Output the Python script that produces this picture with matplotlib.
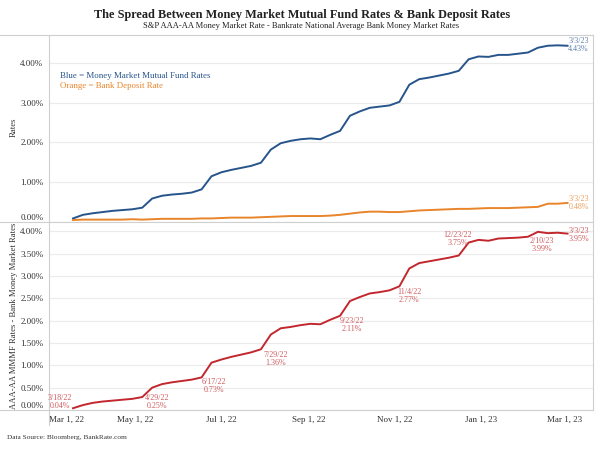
import matplotlib.pyplot as plt
import matplotlib.dates as mdates
import matplotlib.ticker as ticker
from matplotlib.lines import Line2D
import pandas as pd

# weekly readings, Fridays 3/18/22 .. 3/3/23
dates = pd.date_range('2022-03-18', periods=51, freq='7D')

mmf_rate = [0.09, 0.18, 0.22, 0.25, 0.28, 0.30, 0.32, 0.36, 0.59, 0.66,
            0.69, 0.71, 0.74, 0.82, 1.15, 1.25, 1.31, 1.36, 1.41, 1.49,
            1.82, 1.98, 2.04, 2.08, 2.10, 2.08, 2.19, 2.29, 2.67, 2.78,
            2.87, 2.90, 2.93, 3.02, 3.45, 3.59, 3.63, 3.68, 3.73, 3.80,
            4.09, 4.16, 4.15, 4.20, 4.20, 4.23, 4.26, 4.38, 4.43, 4.44,
            4.43]

bank_rate = [0.05, 0.06, 0.06, 0.06, 0.06, 0.06, 0.07, 0.06, 0.07, 0.08,
             0.08, 0.08, 0.08, 0.09, 0.09, 0.10, 0.11, 0.11, 0.11, 0.12,
             0.13, 0.14, 0.15, 0.15, 0.15, 0.15, 0.16, 0.18, 0.21, 0.24,
             0.26, 0.26, 0.25, 0.25, 0.27, 0.29, 0.30, 0.31, 0.32, 0.33,
             0.33, 0.34, 0.35, 0.35, 0.35, 0.36, 0.37, 0.38, 0.46, 0.46,
             0.48]

spread = [0.04, 0.11, 0.16, 0.19, 0.21, 0.23, 0.25, 0.29, 0.50, 0.58,
          0.62, 0.65, 0.68, 0.73, 1.06, 1.13, 1.19, 1.24, 1.29, 1.36,
          1.69, 1.83, 1.86, 1.90, 1.93, 1.92, 2.02, 2.11, 2.44, 2.53,
          2.61, 2.64, 2.68, 2.77, 3.17, 3.29, 3.33, 3.37, 3.41, 3.46,
          3.75, 3.81, 3.79, 3.84, 3.85, 3.86, 3.88, 3.99, 3.96, 3.97,
          3.95]

# labelled points on the spread line
spread_label_idx = [0, 6, 13, 19, 27, 33, 40, 47, 50]
spread_label_txt = ['3/18/22\n0.04%', '4/29/22\n0.25%', '6/17/22\n0.73%',
                    '7/29/22\n1.36%', '9/23/22\n2.11%', '11/4/22\n2.77%',
                    '12/23/22\n3.75%', '2/10/23\n3.99%', '3/3/23\n3.95%']
# label offsets in pixels (x right, y up)
spread_label_off = [(-13, 6), (25, -3), (12, -9), (15, -10), (12, -9),
                    (10, -10), (-11, 4), (4, -13), (11, -1)]

top_ticks = [0, 1, 2, 3, 4]
bottom_ticks = [0, 0.5, 1, 1.5, 2, 2.5, 3, 3.5, 4]
x_ticks = ['2022-03-01', '2022-05-01', '2022-07-01', '2022-09-01',
           '2022-11-01', '2023-01-01', '2023-03-01']

BLUE = '#27548a'
ORANGE = '#e8842a'
RED = '#c2272d'
GRID = '#ebebeb'
EDGE = '#cfcfcf'
TXT = '#333333'

plt.rcParams['font.family'] = ['Liberation Serif', 'DejaVu Serif']

fig = plt.figure(figsize=(6, 4.5), dpi=100)
ax1 = fig.add_axes([49 / 600, 1 - 222 / 450, 544 / 600, 187 / 450])
ax2 = fig.add_axes([49 / 600, 1 - 410 / 450, 544 / 600, 188 / 450])

xmin = pd.Timestamp('2022-03-01')
xmax = pd.Timestamp('2023-03-21')

for ax in (ax1, ax2):
    ax.set_xlim(xmin, xmax)
    for s in ('top', 'bottom', 'right'):
        ax.spines[s].set_visible(False)
    ax.spines['left'].set_color(EDGE)
    ax.spines['left'].set_linewidth(0.8)
    ax.grid(axis='y', color=GRID, linewidth=0.8)
    ax.set_axisbelow(True)
    ax.tick_params(axis='y', length=0, pad=4, labelsize=6.5, labelcolor=TXT)
    ax.yaxis.set_major_formatter(ticker.FuncFormatter(lambda v, p: f'{v:.2f}%'))

# top panel
ax1.plot(dates, mmf_rate, color=BLUE, linewidth=1.4)
ax1.plot(dates, bank_rate, color=ORANGE, linewidth=1.4)
ax1.set_ylim(0, 4.70)
ax1.set_yticks(top_ticks)
ax1.set_xticks([])
ax1.get_yticklabels()[0].set_va('bottom')

ax1.annotate('3/3/23\n' + f'{mmf_rate[-1]:.2f}%', (dates[-1], mmf_rate[-1]),
             xytext=(11, 1), textcoords='offset pixels', ha='center', va='center',
             fontsize=5.8, color='#5d80aa', linespacing=1.0)
ax1.annotate('3/3/23\n' + f'{bank_rate[-1]:.2f}%', (dates[-1], bank_rate[-1]),
             xytext=(11, 0), textcoords='offset pixels', ha='center', va='center',
             fontsize=5.8, color='#eba05c', linespacing=1.0)
ax1.text(60 / 600, 1 - 76 / 450, 'Blue = Money Market Mutual Fund Rates',
         transform=fig.transFigure, fontsize=6.4, color=BLUE, va='center')
ax1.text(60 / 600, 1 - 85.5 / 450, 'Orange = Bank Deposit Rate',
         transform=fig.transFigure, fontsize=6.4, color=ORANGE, va='center')

# bottom panel
ax2.plot(dates, spread, color=RED, linewidth=1.4)
ax2.set_ylim(0, 4.21)
ax2.set_yticks(bottom_ticks)
ax2.get_yticklabels()[0].set_va('bottom')
ax2.set_xticks(pd.to_datetime(x_ticks))
ax2.xaxis.set_major_formatter(mdates.DateFormatter('%b 1, %y'))
ax2.tick_params(axis='x', length=0, pad=4, labelsize=6.5, labelcolor=TXT)
ax2.get_xticklabels()[0].set_ha('left')

for i, txt, off in zip(spread_label_idx, spread_label_txt, spread_label_off):
    ax2.annotate(txt, (dates[i], spread[i]), xytext=off, textcoords='offset pixels',
                 ha='center', va='center', fontsize=5.8, color='#cf5a5e',
                 linespacing=1.0)

# frame lines
for y in (35, 222, 410):
    fig.add_artist(Line2D([0, 593 / 600], [1 - y / 450] * 2, color=EDGE,
                          linewidth=0.8, transform=fig.transFigure))
fig.add_artist(Line2D([593 / 600] * 2, [1 - 35 / 450, 1 - 410 / 450], color=EDGE,
                      linewidth=0.8, transform=fig.transFigure))
fig.add_artist(Line2D([49 / 600] * 2, [1 - 410 / 450, 1 - 425 / 450], color=EDGE,
                      linewidth=0.8, transform=fig.transFigure))

# titles and axis labels
fig.text(0.503, 1 - 15 / 450, 'The Spread Between Money Market Mutual Fund Rates & Bank Deposit Rates',
         ha='center', va='center', fontsize=8.8, fontweight='bold', color='#222222')
fig.text(0.502, 1 - 26.5 / 450, 'S&P AAA-AA Money Market Rate - Bankrate National Average Bank Money Market Rates',
         ha='center', va='center', fontsize=6.1, color='#222222')
fig.text(14 / 600, 1 - 127 / 450, 'Rates', rotation=90, ha='center', va='center',
         fontsize=6.3, color=TXT)
fig.text(14 / 600, 1 - 316 / 450, 'AAA-AA MMMF Rates - Bank Money Market Rates',
         rotation=90, ha='center', va='center', fontsize=6.2, color=TXT)
fig.text(7 / 600, 1 - 437 / 450, 'Data Source: Bloomberg, BankRate.com',
         ha='left', va='center', fontsize=5.2, color=TXT)

fig.savefig('out.png', dpi=100)
